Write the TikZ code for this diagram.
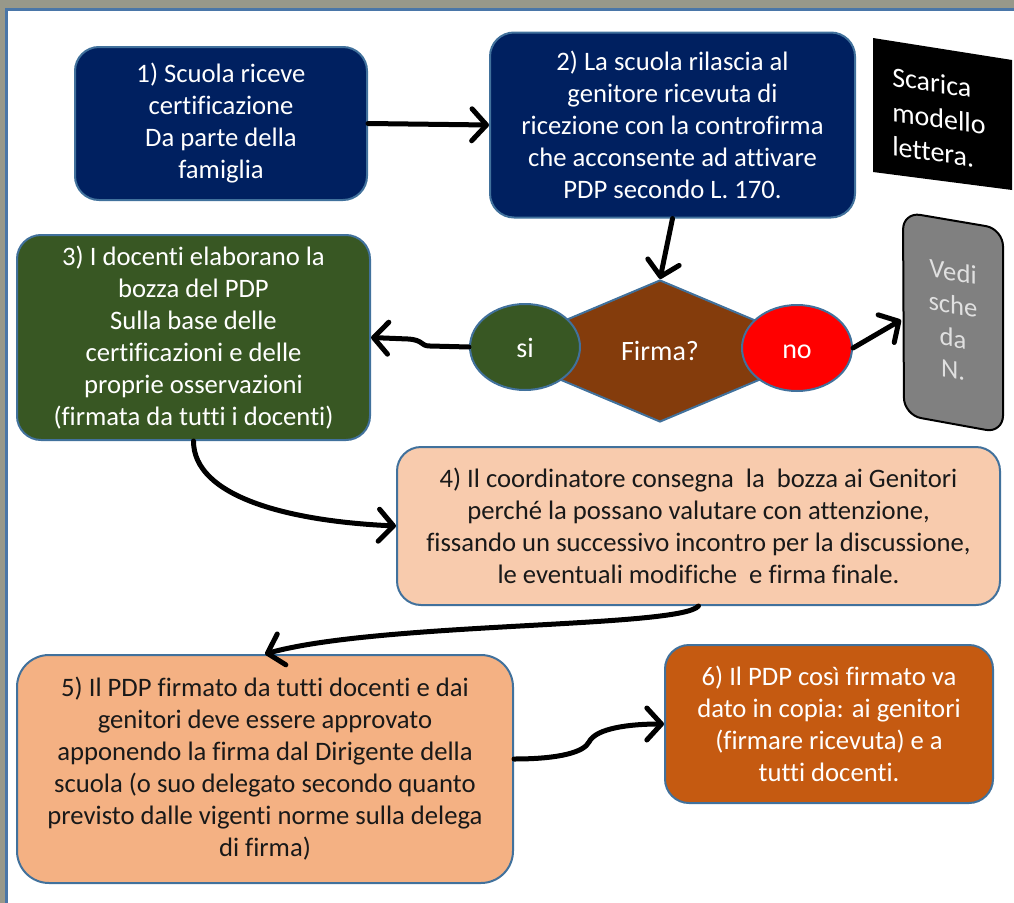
\documentclass[tikz,border=0pt]{standalone}
\usepackage{fontspec}
\setmainfont{Carlito}[Ligatures={NoCommon,NoDiscretionary,NoRare}]
\usetikzlibrary{shapes.geometric,arrows.meta}
\definecolor{framegray}{HTML}{98988A}
\definecolor{frameblue}{HTML}{4A76A8}
\definecolor{navy}{HTML}{002060}
\definecolor{darkgreen}{HTML}{385723}
\definecolor{brown}{HTML}{843C0C}
\definecolor{peachlight}{HTML}{F8CBAD}
\definecolor{peach}{HTML}{F4B183}
\definecolor{burnt}{HTML}{C55A11}
\definecolor{edgeblue}{HTML}{41719C}
\definecolor{midgray}{HTML}{808080}
\definecolor{lightgray}{HTML}{E0E0E0}
\tikzset{
  box/.style={draw=edgeblue, line width=1.5pt, rounded corners=18pt, align=center,
    inner sep=0pt, font=\fontsize{20}{24}\selectfont},
  oval/.style={ellipse, draw=edgeblue, line width=1.5pt, inner sep=0pt,
    minimum width=82.5pt, minimum height=64.5pt, text=white,
    text height=17pt, text depth=2pt, font=\fontsize{21}{25}\selectfont},
  arr/.style={line width=3.75pt, line cap=round, line join=round,
    -{Straight Barb[length=11pt,width=24pt,line cap=round,line join=round]}},
  slanttxt/.style={text=white, anchor=base west, inner sep=0pt, yslant=-0.15,
    font=\fontsize{21}{26}\selectfont},
  veditxt/.style={text=lightgray, anchor=base, inner sep=0pt, yslant=-0.17,
    font=\fontsize{20}{25}\selectfont}
}
\begin{document}
\begin{tikzpicture}[x=0.75pt,y=-0.75pt]
\useasboundingbox (0,0) rectangle (1014,903);
% frame
\fill[framegray] (0,0) rectangle (1014,8);
\fill[framegray] (0,0) rectangle (5,903);
\draw[frameblue, line width=2.25pt] (6.5,903) -- (6.5,9.5) -- (1014,9.5);

% boxes
\node[box, fill=navy, text=white, minimum width=219pt, minimum height=114.75pt] (b1) at (221,123.5)
  {1) Scuola riceve\\certificazione\\Da parte della\\famiglia};
\node[box, fill=navy, text=white, minimum width=273.75pt, minimum height=138.75pt] (b2) at (672.5,125)
  {2) La scuola rilascia al\\genitore ricevuta di\\ricezione con la controfirma\\che acconsente ad attivare\\PDP secondo L. 170.};
\node[box, fill=darkgreen, text=white, minimum width=264.75pt, minimum height=153.75pt] (b3) at (193.5,337.5)
  {3) I docenti elaborano la\\bozza del PDP\\Sulla base delle\\certificazioni e delle\\proprie osservazioni\\(firmata da tutti i docenti)};
\node[box, fill=peachlight, text=black!90, minimum width=452.25pt, minimum height=118.5pt] (b4) at (698.5,526)
  {4) Il coordinatore consegna\ \ la\ \ bozza ai Genitori\\perché la possano valutare con attenzione,\\fissando un successivo incontro per la discussione,\\le eventuali modifiche\ \ e firma finale.};
\node[box, fill=peach, text=black!90, rounded corners=24pt, minimum width=372pt, minimum height=171pt] (b5) at (265,769)
  {5) Il PDP firmato da tutti docenti e dai\\genitori deve essere approvato\\apponendo la firma dal Dirigente della\\scuola (o suo delegato secondo quanto\\previsto dalle vigenti norme sulla delega\\di firma)};
\node[box, fill=burnt, text=white, minimum width=246pt, minimum height=118.5pt] (b6) at (829,724)
  {6) Il PDP così firmato va\\dato in copia: ai genitori\\(firmare ricevuta) e a\\tutti docenti.};

% black sheared box
\fill[black] (873,38) -- (1012,60) -- (1012,190) -- (873,172) -- cycle;
\node[slanttxt] (sc1) at (892,86) {Scarica};
\node[slanttxt] (sc2) at (892,121) {modello};
\node[slanttxt] (sc3) at (892,155) {lettera.};

% gray sheared box
\filldraw[fill=midgray, draw=black, line width=1.5pt, rounded corners=13pt]
  (903,212) -- (1003,229) -- (1003,433) -- (904,415) -- cycle;
\node[veditxt] (v1) at (953,281) {Vedi};
\node[veditxt] (v2) at (953,314) {sche};
\node[veditxt] (v3) at (953,347) {da};
\node[veditxt] (v4) at (953,379) {N.};
\coordinate (vediL) at (901,320);

% decision
\node[diamond, draw=edgeblue, line width=1.5pt, fill=brown, inner sep=0pt,
  minimum width=252pt, minimum height=106.5pt, text=white,
  text height=16pt, text depth=2.5pt, font=\fontsize{21}{25}\selectfont] (dia) at (660,351) {Firma?};
\node[oval, fill=darkgreen] (si) at (525,347) {si};
\node[oval, fill=red] (no) at (797,348) {no};

% connectors
\draw[arr] (b1.east) -- (b2.west);
\draw[arr] (b2.south) -- (dia.north);
\draw[arr] (si.west) -- (430,346) .. controls (420,346) and (424,340) .. (408,339) -- (b3.east);
\draw[arr] (no.east) -- (vediL);
\draw[arr] (b3.south) .. controls +(0,55) and +(-110,-5) .. (b4.west);
\draw[arr] (b4.south) .. controls (680,628) and (380,622) .. (b5.north);
\draw[arr] ([yshift=7.5pt]b5.east) .. controls (560,759) and (584,752) .. (589,742)
  .. controls (596,728) and (630,724) .. (b6.west);
\end{tikzpicture}
\end{document}
